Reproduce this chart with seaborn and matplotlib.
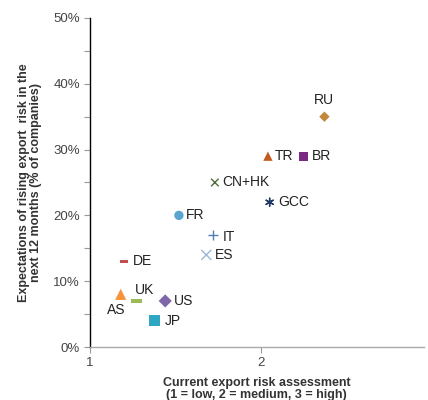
import pandas as pd
import numpy as np
import seaborn as sns
import matplotlib.pyplot as plt
from matplotlib.path import Path
from matplotlib.ticker import MultipleLocator, PercentFormatter

# short flat bar used for DE and UK
dash = Path([(-1, -0.3), (1, -0.3), (1, 0.3), (-1, 0.3), (-1, -0.3)],
            [Path.MOVETO, Path.LINETO, Path.LINETO, Path.LINETO, Path.CLOSEPOLY])

# data
countries = ["RU", "TR", "BR", "FR", "AS", "US", "JP", "DE", "UK",
             "CN+HK", "GCC", "IT", "ES"]
risk_now = [2.37, 2.04, 2.25, 1.52, 1.18, 1.44, 1.38, 1.20, 1.27,
            1.73, 2.05, 1.72, 1.68]
risk_rising = [35, 29, 29, 20, 8, 7, 4, 13, 7,
               25, 22, 17, 14]
colors = ["#C4863A", "#C55A1E", "#7A2A82", "#5BA3D0", "#F7923A", "#7F65AA", "#2FA7C2",
          "#C0504D", "#9BBB59", "#4E6B3A", "#1F3864", "#4F81BD", "#9AB7D9"]
markers = ["D", "^", "s", "o", "^", "D", "s", dash, dash,
           "x", (6, 2, 0), "+", "x"]
sizes = [28, 45, 40, 45, 64, 45, 64, 33, 64,
         30, 34, 52, 52]
filled = [True] * 9 + [False] * 4
# label offsets in points and alignment
offsets = [(0, 7), (5, 0), (6, 0), (5, 0), (-3, -6), (6, 0), (7, 0), (6, 0), (-1, 3),
           (5, 0), (6, 0), (7, -1.5), (6, 0)]
aligns = [("center", "bottom"), ("left", "center"), ("left", "center"), ("left", "center"),
          ("center", "top"), ("left", "center"), ("left", "center"), ("left", "center"),
          ("left", "bottom"), ("left", "center"), ("left", "center"), ("left", "center"),
          ("left", "center")]

df = pd.DataFrame({"country": countries, "x": risk_now,
                   "y": np.array(risk_rising) / 100, "filled": filled})
palette = dict(zip(countries, colors))
marker_map = dict(zip(countries, markers))
size_map = dict(zip(countries, sizes))

sns.set_style("white")
plt.rcParams["font.family"] = ["Liberation Sans", "DejaVu Sans"]

fig = plt.figure(figsize=(4.28, 4.0), dpi=100)
ax = fig.add_axes([0.21, 0.1325, 0.78, 0.8225])

fd = df[df["filled"]]
sns.scatterplot(data=fd, x="x", y="y", hue="country", style="country", size="country",
                palette={c: palette[c] for c in fd["country"]},
                markers={c: marker_map[c] for c in fd["country"]},
                sizes={c: size_map[c] for c in fd["country"]},
                linewidth=0, legend=False, ax=ax)
ld = df[~df["filled"]]
sns.scatterplot(data=ld, x="x", y="y", hue="country", style="country", size="country",
                palette={c: palette[c] for c in ld["country"]},
                markers={c: marker_map[c] for c in ld["country"]},
                sizes={c: size_map[c] for c in ld["country"]},
                linewidth=1.0, legend=False, ax=ax)

for c, x, y, off, (ha, va) in zip(countries, df["x"], df["y"], offsets, aligns):
    ax.annotate(c, (x, y), xytext=off, textcoords="offset points",
                fontsize=10, color="#222222", ha=ha, va=va)

ax.set_xlim(1, 2.95)
ax.set_ylim(0, 0.5)
ax.set_xticks([1, 2])
ax.yaxis.set_major_locator(MultipleLocator(0.1))
ax.yaxis.set_minor_locator(MultipleLocator(0.05))
ax.yaxis.set_major_formatter(PercentFormatter(1.0, decimals=0))
ax.tick_params(axis="both", which="both", direction="out", length=4, width=0.8,
               color="#999999", labelsize=9.5, labelcolor="#444444", pad=3)
ax.tick_params(axis="y", which="both", left=True)
ax.tick_params(axis="x", bottom=True)

for s in ["top", "right"]:
    ax.spines[s].set_visible(False)
ax.spines["left"].set_color("black")
ax.spines["left"].set_linewidth(1.0)
ax.spines["bottom"].set_color("#aaaaaa")
ax.spines["bottom"].set_linewidth(1.0)

ax.set_xlabel("Current export risk assessment\n(1 = low, 2 = medium, 3 = high)",
              fontsize=9, fontweight="bold", color="#333333", linespacing=1.0, labelpad=6)
ax.set_ylabel("Expectations of rising export  risk in the\nnext 12 months (% of companies)",
              fontsize=9, fontweight="bold", color="#333333", linespacing=1.05, labelpad=8)

fig.savefig("out.png", dpi=100)
